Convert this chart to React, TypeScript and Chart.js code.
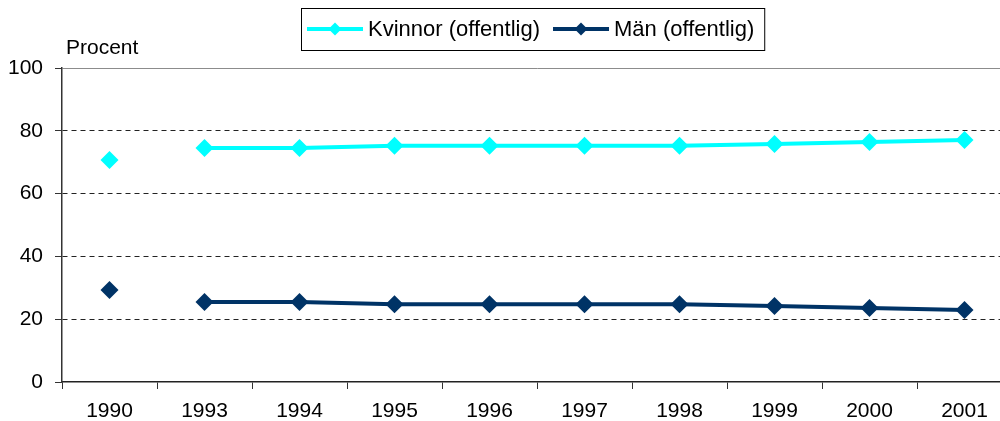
import React, { useEffect, useRef } from "react";
import { Chart, registerables } from "chart.js";

Chart.register(...registerables);

const categories = ["1990", "1993", "1994", "1995", "1996", "1997", "1998", "1999", "2000", "2001"];
const kvinnor = [70.7, 74.5, 74.5, 75.2, 75.2, 75.2, 75.2, 75.8, 76.4, 77.1];
const man = [29.3, 25.5, 25.5, 24.8, 24.8, 24.8, 24.8, 24.2, 23.6, 22.9];
const seriesNames = ["Kvinnor (offentlig)", "Män (offentlig)"];
const seriesColors = ["#00FFFF", "#003366"];
const yTitle = "Procent";
const yMin = 0;
const yMax = 100;
const yStep = 20;

const FONT = "'Liberation Sans', Arial, sans-serif";

const legendPlugin = {
  id: "boxLegend",
  afterDraw(chart: any) {
    const ctx = chart.ctx as CanvasRenderingContext2D;
    ctx.save();
    ctx.font = `22px ${FONT}`;
    const left = 301;
    const top = 8;
    const h = 42;
    const cy = top + h / 2;
    let x = left + 6;
    const symW = 56;
    const parts: { x: number; w: number }[] = [];
    seriesNames.forEach((name) => {
      const tw = ctx.measureText(name).width;
      parts.push({ x, w: tw });
      x += symW + 5 + tw + 13;
    });
    const right = x - 13 + 10;
    ctx.fillStyle = "#fff";
    ctx.fillRect(left, top, right - left, h);
    ctx.strokeStyle = "#000";
    ctx.lineWidth = 1;
    ctx.strokeRect(left + 0.5, top + 0.5, right - left, h);
    seriesNames.forEach((name, i) => {
      const p = parts[i];
      ctx.strokeStyle = seriesColors[i];
      ctx.lineWidth = 4;
      ctx.beginPath();
      ctx.moveTo(p.x, cy);
      ctx.lineTo(p.x + symW, cy);
      ctx.stroke();
      const dx = p.x + symW / 2;
      const r = 6.5;
      ctx.fillStyle = seriesColors[i];
      ctx.beginPath();
      ctx.moveTo(dx, cy - r);
      ctx.lineTo(dx + r, cy);
      ctx.lineTo(dx, cy + r);
      ctx.lineTo(dx - r, cy);
      ctx.closePath();
      ctx.fill();
      ctx.fillStyle = "#000";
      ctx.textBaseline = "middle";
      ctx.textAlign = "left";
      ctx.fillText(name, p.x + symW + 5, cy + 1);
    });
    ctx.restore();
  },
};

const yTitlePlugin = {
  id: "yTitle",
  afterDraw(chart: any) {
    const ctx = chart.ctx as CanvasRenderingContext2D;
    ctx.save();
    ctx.font = `21px ${FONT}`;
    ctx.fillStyle = "#000";
    ctx.textAlign = "left";
    ctx.textBaseline = "alphabetic";
    ctx.fillText(yTitle, chart.chartArea.left + 4, chart.chartArea.top - 14);
    ctx.restore();
  },
};

export default function App() {
  const ref = useRef<HTMLCanvasElement | null>(null);
  useEffect(() => {
    if (!ref.current) return;
    const gapSegment = (color: string) => (ctx: any) =>
      ctx.p0DataIndex === 0 ? "rgba(0,0,0,0)" : color;
    const chart = new Chart(ref.current, {
      type: "line",
      data: {
        labels: categories,
        datasets: [
          {
            label: seriesNames[0],
            data: kvinnor,
            borderColor: seriesColors[0],
            backgroundColor: seriesColors[0],
            borderWidth: 4,
            pointStyle: "rectRot",
            pointRadius: 9,
            pointBorderWidth: 0,
            pointBackgroundColor: seriesColors[0],
            tension: 0,
            segment: { borderColor: gapSegment(seriesColors[0]) },
          },
          {
            label: seriesNames[1],
            data: man,
            borderColor: seriesColors[1],
            backgroundColor: seriesColors[1],
            borderWidth: 4,
            pointStyle: "rectRot",
            pointRadius: 9,
            pointBorderWidth: 0,
            pointBackgroundColor: seriesColors[1],
            tension: 0,
            segment: { borderColor: gapSegment(seriesColors[1]) },
          },
        ],
      },
      options: {
        animation: false,
        responsive: false,
        maintainAspectRatio: false,
        layout: { padding: { top: 68, left: 0, right: 0, bottom: 0 } },
        plugins: {
          legend: { display: false },
          tooltip: { enabled: false },
        },
        scales: {
          x: {
            type: "category",
            offset: true,
            grid: {
              offset: true,
              drawOnChartArea: false,
              drawTicks: true,
              tickLength: 7,
              tickColor: "#333",
              tickWidth: 1,
            },
            border: { display: true, color: "#222", width: 1.5 },
            ticks: {
              color: "#000",
              font: { family: FONT, size: 21 },
              padding: 10,
              maxRotation: 0,
              autoSkip: false,
            },
            afterFit: (scale: any) => {
              scale.height = 39;
            },
          },
          y: {
            min: yMin,
            max: yMax,
            grid: {
              drawOnChartArea: true,
              drawTicks: true,
              tickLength: 7,
              tickColor: "#333",
              tickWidth: 1,
              tickBorderDash: [],
              lineWidth: 1,
              color: (ctx: any) => {
                const v = ctx.tick ? ctx.tick.value : null;
                if (v === yMin) return "rgba(0,0,0,0)";
                if (v === yMax) return "#8c8c8c";
                return "#222";
              },
            },
            border: {
              display: true,
              color: "#333",
              width: 1.5,
              dash: (ctx: any) => {
                const v = ctx.tick ? ctx.tick.value : null;
                if (v === null || v === yMax || v === yMin) return [];
                return [5, 4];
              },
            },
            ticks: {
              stepSize: yStep,
              color: "#000",
              font: { family: FONT, size: 21 },
              padding: 12,
            },
            afterFit: (scale: any) => {
              scale.width = 62;
            },
          },
        },
      },
      plugins: [legendPlugin, yTitlePlugin],
    } as any);
    return () => chart.destroy();
  }, []);

  return (
    <div
      style={{
        position: "absolute",
        left: 0,
        top: 0,
        width: 1000,
        height: 421,
        overflow: "hidden",
        background: "#fff",
      }}
    >
      <canvas ref={ref} width={1021} height={421} style={{ display: "block", width: 1021, height: 421 }} />
    </div>
  );
}
